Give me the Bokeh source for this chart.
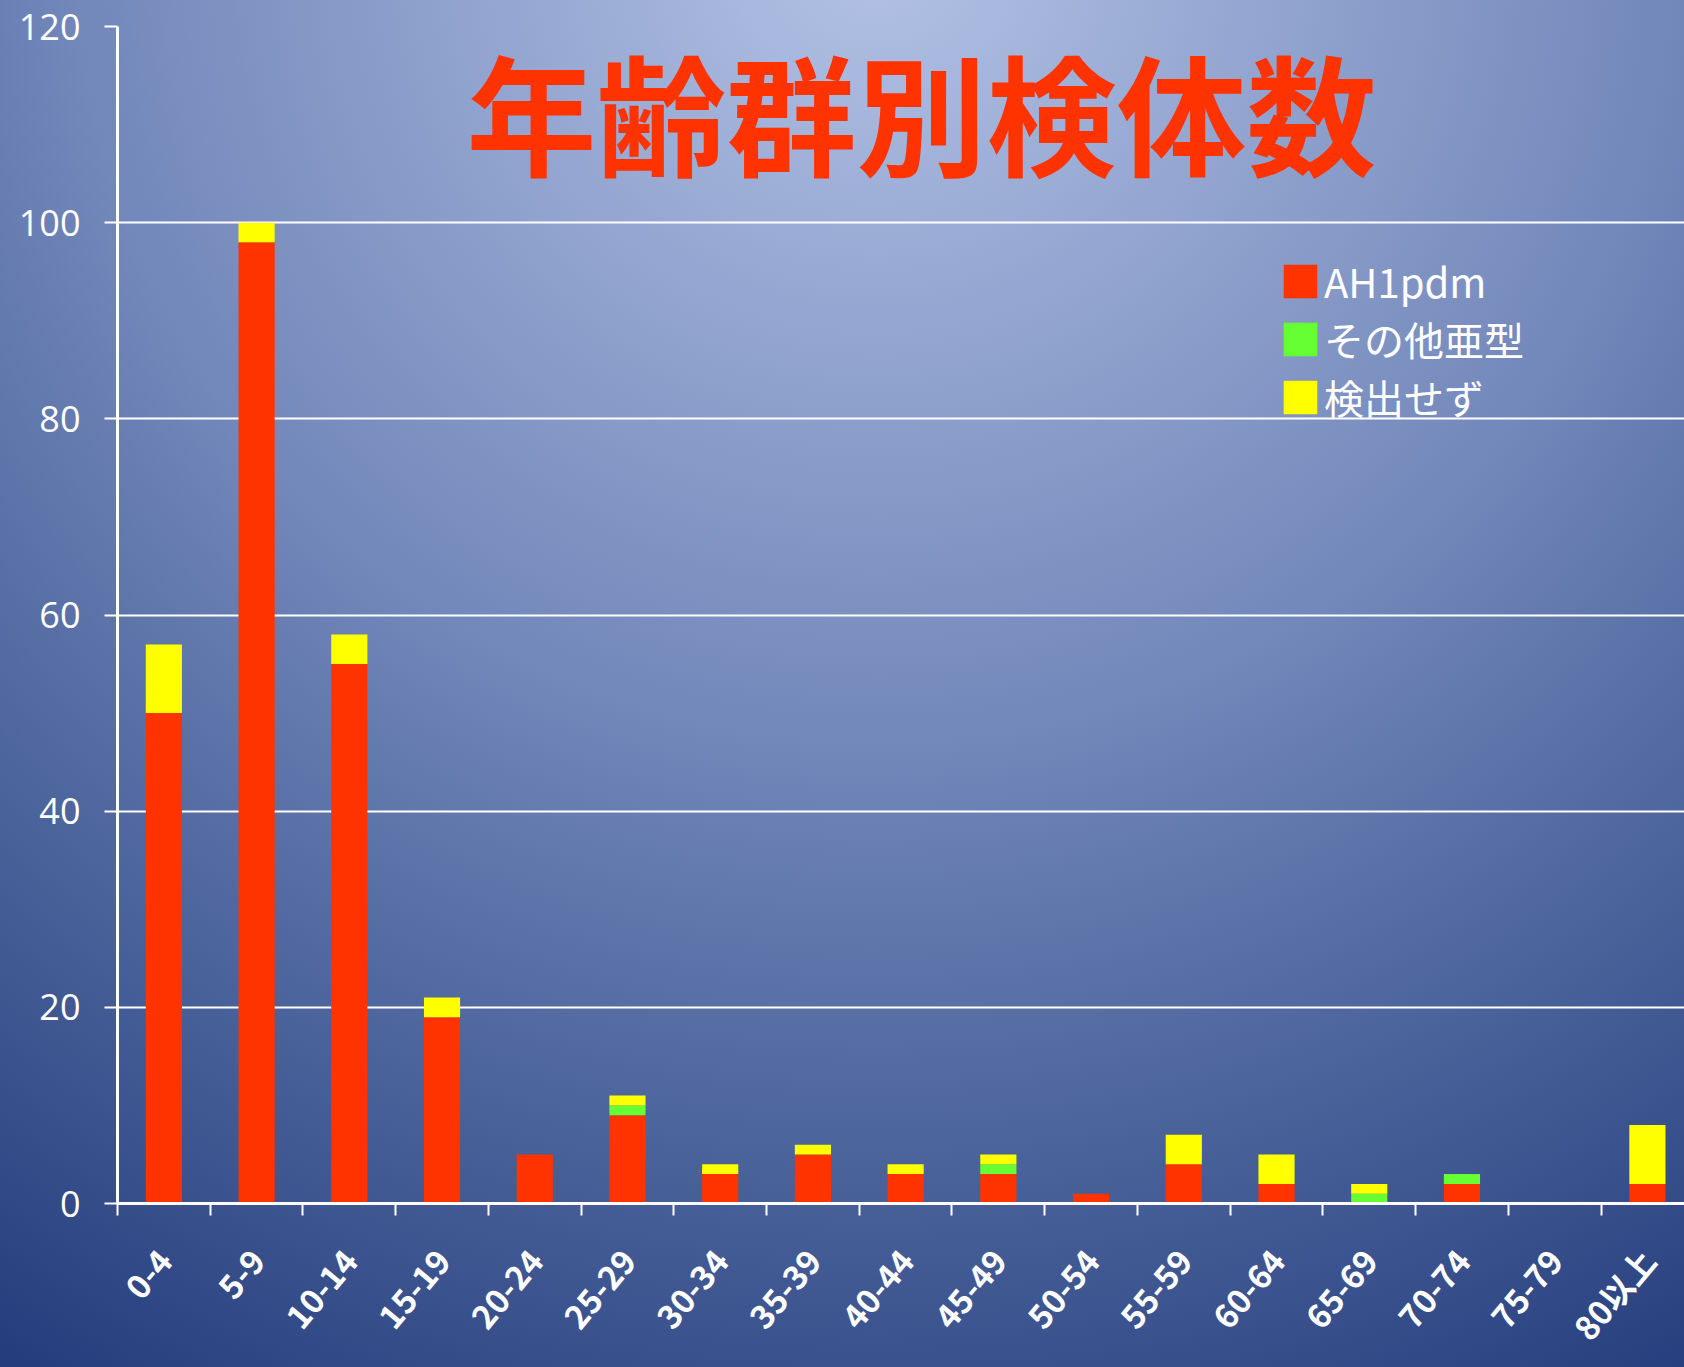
from bokeh.plotting import figure
from bokeh.models import Range1d, FixedTicker, Label, Legend, LegendItem, ColumnDataSource
from bokeh.embed import file_html
from bokeh.resources import INLINE

categories = ["0-4", "5-9", "10-14", "15-19", "20-24", "25-29", "30-34", "35-39",
              "40-44", "45-49", "50-54", "55-59", "60-64", "65-69", "70-74", "75-79", "80以上"]
ah1pdm = [50, 98, 55, 19, 5, 9, 3, 5, 3, 3, 1, 4, 2, 0, 2, 0, 2]
other_subtype = [0, 0, 0, 0, 0, 1, 0, 0, 0, 1, 0, 0, 0, 1, 1, 0, 0]
not_detected = [7, 2, 3, 2, 0, 1, 1, 1, 1, 1, 0, 3, 3, 1, 0, 0, 6]
series_names = ["AH1pdm", "その他亜型", "検出せず"]
series_colors = ["#FF3300", "#66FF33", "#FFFF00"]
y_ticks = [0, 20, 40, 60, 80, 100, 120]
title_text = "年齢群別検体数"

pos = [i + 0.5 for i in range(len(categories))]
src = ColumnDataSource(dict(x=pos, a=ah1pdm, b=other_subtype, c=not_detected))

p = figure(width=1684, height=1367, output_backend="svg", toolbar_location=None,
           x_range=Range1d(0, 16.9), y_range=Range1d(0, 120),
           min_border_left=117, min_border_right=0, min_border_top=26, min_border_bottom=164)
p.background_fill_alpha = 0
p.border_fill_alpha = 0
p.outline_line_color = None
p.styles = {"background": "radial-gradient(circle at 52% -4%, #B3C2E5 0px, #7287BA 800px, #556DA3 1100px, #22397A 1700px)"}

rs = p.vbar_stack(["a", "b", "c"], x="x", width=0.39, source=src,
                  color=series_colors, line_color=None)

# axes
p.xgrid.grid_line_color = None
p.ygrid.grid_line_color = "white"
p.ygrid.grid_line_width = 2
p.ygrid.ticker = FixedTicker(ticks=y_ticks)

ya = p.yaxis[0]
ya.ticker = FixedTicker(ticks=y_ticks)
ya.axis_line_color = "white"
ya.axis_line_width = 3
ya.major_tick_line_color = "white"
ya.major_tick_line_width = 2
ya.major_tick_out = 13
ya.major_tick_in = 0
ya.minor_tick_line_color = None
ya.major_label_standoff = 24
ya.major_label_text_color = "white"
ya.major_label_text_font = "Open Sans"
ya.major_label_text_font_size = "36px"

xa = p.xaxis[0]
xa.ticker = FixedTicker(ticks=pos, minor_ticks=list(range(len(categories) + 1)))
xa.major_label_overrides = {pv: c for pv, c in zip(pos, categories)}
xa.axis_line_color = "white"
xa.axis_line_width = 3
xa.major_tick_out = 0
xa.major_tick_in = 0
xa.major_tick_line_color = None
xa.minor_tick_out = 12
xa.minor_tick_in = 0
xa.minor_tick_line_color = "white"
xa.minor_tick_line_width = 2
xa.major_label_orientation = 0.873
xa.major_label_standoff = 38
xa.major_label_text_color = "white"
xa.major_label_text_font = "Noto Sans CJK JP"
xa.major_label_text_font_style = "bold"
xa.major_label_text_font_size = "33px"

# title inside the plot area
p.add_layout(Label(x=8.67, y=111.6, text=title_text, text_align="center",
                   text_baseline="middle", text_color="#FF3300",
                   text_font="Noto Sans CJK JP", text_font_style="bold",
                   text_font_size="130px"))

legend = Legend(items=[LegendItem(label=n, renderers=[r]) for n, r in zip(series_names, rs)],
                location=(1162, 777), orientation="vertical")
legend.background_fill_alpha = 0
legend.border_line_alpha = 0
legend.padding = 0
legend.margin = 0
legend.spacing = 0
legend.glyph_width = 42
legend.glyph_height = 42
legend.label_standoff = 3
legend.label_text_color = "white"
legend.label_text_font = "Noto Sans CJK JP"
legend.label_text_font_size = "40px"
legend.label_height = 50
p.add_layout(legend)

open("out.html", "w").write(file_html(p, INLINE))
